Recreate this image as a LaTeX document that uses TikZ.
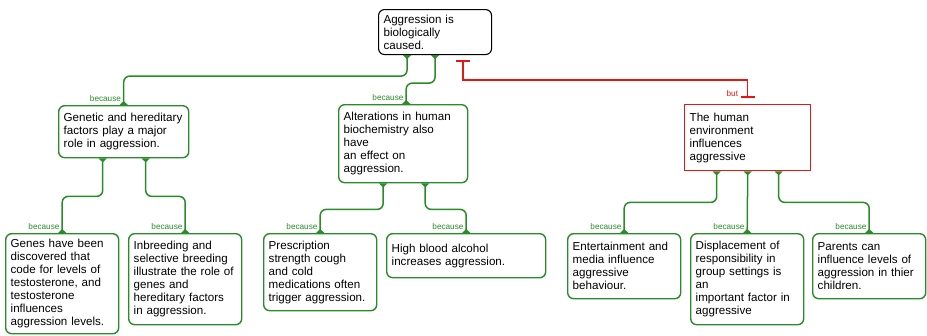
\documentclass[tikz,border=0pt]{standalone}
\usepackage{fontspec}
\setmainfont{Liberation Sans}
\usetikzlibrary{arrows.meta,positioning}
\definecolor{mapgreen}{RGB}{40,140,40}
\definecolor{mapred}{RGB}{235,20,20}

\begin{document}
\begin{tikzpicture}[x=1pt, y=1pt]
    \tikzset{
      boxnode/.style={rectangle,rounded corners=6pt,draw=mapgreen,line width=1.4pt,inner xsep=5pt,inner ysep=4pt,align=left,anchor=north west,font=\fontsize{11.6}{13}\selectfont},
      claimnode/.style={boxnode,draw=black,line width=1.1pt},
      rebutnode/.style={boxnode,draw=mapred,sharp corners},
      reason/.style={anchor=south east,inner sep=1pt,yshift=2pt,xshift=-1pt,text=mapgreen,font=\fontsize{8.2}{9}\selectfont},
      link/.style={draw=mapgreen,line width=1.5pt,rounded corners=6pt,{Triangle[reversed,width=8pt,length=4pt]}-{Triangle[reversed,width=8pt,length=4pt]}},
      butlink/.style={draw=mapred,line width=1.3pt,{Bar[width=14pt,line width=2.2pt]}-{Bar[width=14pt,line width=2.2pt]},shorten <=5pt,shorten >=6pt}
    }
    \useasboundingbox (0,0) rectangle (927,-335);
    \node[claimnode,text width=103pt,minimum height=45pt] (claim) at (378,-9) {Aggression is\\biologically\\caused.};
    \node[boxnode,text width=120pt,minimum height=52pt] (genetic) at (58,-105) {Genetic and hereditary\\factors play a major\\role in aggression.};
    \node[boxnode,text width=119pt,minimum height=78pt] (biochem) at (338,-104) {Alterations in human\\biochemistry also\\have\\an effect on\\aggression.};
    \node[rebutnode,text width=116pt,minimum height=66pt] (environ) at (684,-104) {The human\\environment\\influences\\aggressive};
    \node[boxnode,text width=103pt,minimum height=100pt] (genes) at (5,-233) {Genes have been\\discovered that\\code for levels of\\testosterone, and\\testosterone\\influences\\aggression levels.};
    \node[boxnode,text width=103pt,minimum height=91pt] (inbreed) at (128,-233) {Inbreeding and\\selective breeding\\illustrate the role of\\genes and\\hereditary factors\\in aggression.};
    \node[boxnode,text width=103pt,minimum height=77pt] (medication) at (263,-233) {Prescription\\strength cough\\and cold\\medications often\\trigger aggression.};
    \node[boxnode,text width=149pt,minimum height=44pt] (alcohol) at (386,-233) {High blood alcohol\\increases aggression.};
    \node[boxnode,text width=103pt,minimum height=65pt] (media) at (567,-233) {Entertainment and\\media influence\\aggressive\\behaviour.};
    \node[boxnode,text width=103pt,minimum height=91pt] (displace) at (690,-233) {Displacement of\\responsibility in\\group settings is\\an\\important factor in\\aggressive};
    \node[boxnode,text width=103pt,minimum height=65pt] (parents) at (812,-233) {Parents can\\influence levels of\\aggression in thier\\children.};

    % reasons for the claim
    \draw[link] ([xshift=-28pt]claim.south) -- ++(0,-21) -| (genetic.north) node[reason]{because};
    \draw[link] (claim.south) -- ++(0,-28) -| ([xshift=3pt]biochem.north) node[reason]{because};
    \draw[link] ([xshift=-21pt]genetic.south) -- ++(0,-38) -| (genes.north) node[reason]{because};
    \draw[link] ([xshift=22pt]genetic.south) -- ++(0,-38) -| (inbreed.north) node[reason]{because};
    \draw[link] ([xshift=-20pt]biochem.south) -- ++(0,-26) -| (medication.north) node[reason]{because};
    \draw[link] ([xshift=22pt]biochem.south) -- ++(0,-26) -| (alcohol.north) node[reason]{because};
    \draw[link] ([xshift=-31pt]environ.south) -- ++(0,-31) -| (media.north) node[reason]{because};
    \draw[link] (environ.south) -- (displace.north) node[reason]{because};
    \draw[link] ([xshift=31pt]environ.south) -- ++(0,-31) -| (parents.north) node[reason]{because};
    % objection
    \draw[butlink] ([xshift=28pt]claim.south) -- ++(0,-25) -| (environ.north) node[reason,text=mapred,yshift=4pt,xshift=-7pt]{but};

  \end{tikzpicture}
\end{document}
